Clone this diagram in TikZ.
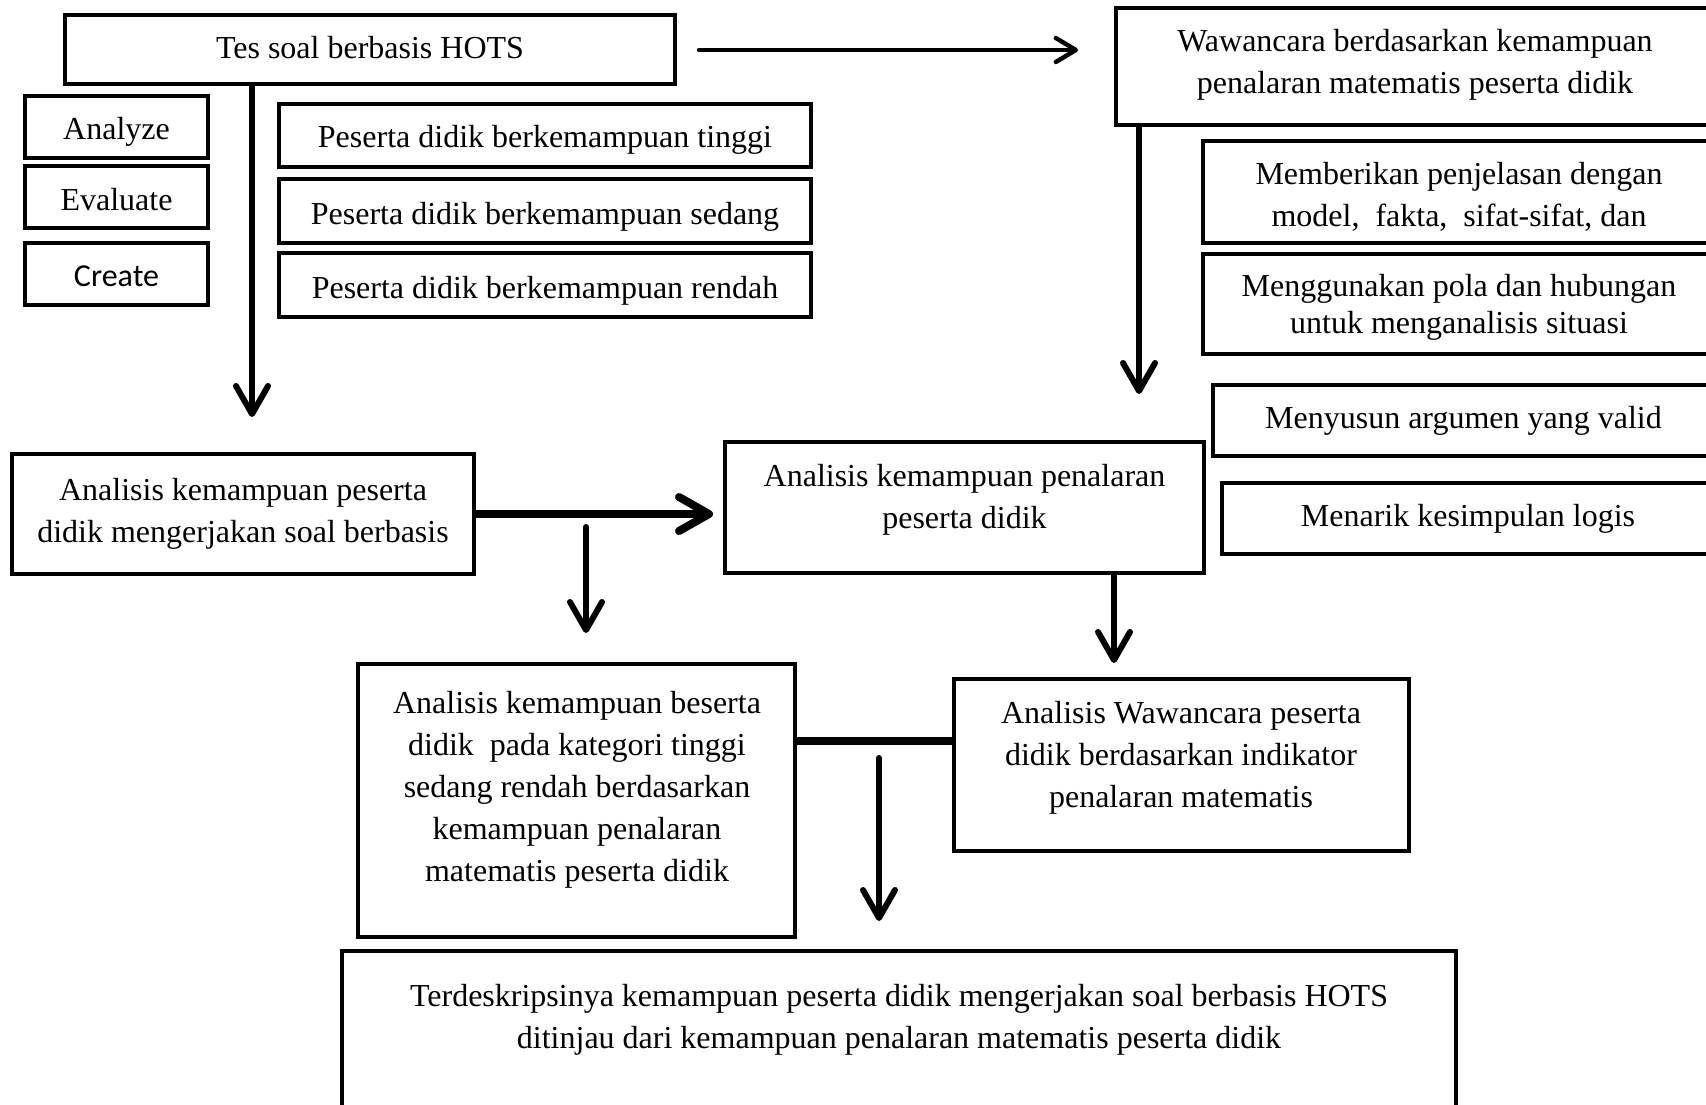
\documentclass[tikz,border=0pt]{standalone}
\usepackage{fontspec}
\setmainfont{Liberation Serif}
\newfontfamily\calibrifont{Carlito}
\usetikzlibrary{arrows.meta,calc}
\begin{document}
\begin{tikzpicture}[x=0.5pt,y=-0.5pt,
  box/.style={draw, line width=2pt, inner sep=0pt},
  txt/.style={font=\fontsize{16}{21}\selectfont, align=center, inner sep=0pt},
  arr/.style={line width=3pt, line cap=round, -{Straight Barb[length=14pt,width=16pt,line cap=round,line join=round]}},
  arrsmall/.style={line width=2.2pt, line cap=round, -{Straight Barb[length=10pt,width=12pt,line cap=round,line join=round]}},
  arrthick/.style={line width=4pt, -{Straight Barb[length=15pt,width=17pt,line cap=round,line join=round]}},
]
\useasboundingbox (0,0) rectangle (1706,1104);

% top-left group
\node[box, minimum width=305pt, minimum height=34.5pt] (a) at (370,49.5) {};
\node[txt] (at) at (370,47.3) {Tes soal berbasis HOTS};
\node[box, minimum width=91.5pt, minimum height=31pt] (b) at (116.5,127) {};
\node[txt] (bt) at (116.5,132) {Analyze};
\node[box, minimum width=91.5pt, minimum height=31pt] (c) at (116.5,197) {};
\node[txt] (ct) at (116.5,199.2) {Evaluate};
\node[box, minimum width=91.5pt, minimum height=31pt] (d) at (116.5,274) {};
\node[txt, font=\calibrifont\fontsize{16}{21}\selectfont] (dt) at (116.5,276.2) {Create};
\node[box, minimum width=266pt, minimum height=31.5pt] (e) at (545,135.5) {};
\node[txt] (et) at (545,140) {Peserta didik berkemampuan tinggi};
\node[box, minimum width=266pt, minimum height=32pt] (f) at (545,211) {};
\node[txt] (ft) at (545,217) {Peserta didik berkemampuan sedang};
\node[box, minimum width=266pt, minimum height=32pt] (g) at (545,285) {};
\node[txt] (gt) at (545,291) {Peserta didik berkemampuan rendah};

% top-right group
\node[box, minimum width=299pt, minimum height=58.5pt] (h) at (1415,66.5) {};
\node[txt] (ht) at (1415,64.3) {Wawancara berdasarkan kemampuan\\penalaran matematis peserta didik};
\node[box, minimum width=255.5pt, minimum height=51pt] (i) at (1458.5,192) {};
\node[txt] (it) at (1459,196.4) {Memberikan penjelasan dengan\\model,~ fakta,~ sifat-sifat, dan};
\node[box, minimum width=255.5pt, minimum height=50pt] (j) at (1458.5,304) {};
\node[txt, font=\fontsize{16}{18.5}\selectfont] (jt) at (1459,307.3) {Menggunakan pola dan hubungan\\untuk menganalisis situasi};
\node[box, minimum width=250.5pt, minimum height=35.5pt] (k) at (1463.5,420.5) {};
\node[txt] (kt) at (1463.5,420.5) {Menyusun argumen yang valid};
\node[box, minimum width=246pt, minimum height=35.5pt] (l) at (1468,518.5) {};
\node[txt] (lt) at (1468,518.5) {Menarik kesimpulan logis};

% middle
\node[box, minimum width=239.5pt, minimum height=65.5pt] (m) at (964.5,507.5) {};
\node[txt] (mt) at (964.5,499.3) {Analisis kemampuan penalaran\\peserta didik};
\node[box, minimum width=231pt, minimum height=60pt] (n) at (243,514) {};
\node[txt] (nt) at (243,513.8) {Analisis kemampuan peserta\\didik mengerjakan soal berbasis};
\node[box, minimum width=218.5pt, minimum height=136.5pt] (o) at (576.5,800.5) {};
\node[txt] (ot) at (577,789.3) {Analisis kemampuan beserta\\didik~ pada kategori tinggi\\sedang rendah berdasarkan\\kemampuan penalaran\\matematis peserta didik};
\node[box, minimum width=227.5pt, minimum height=86pt] (p) at (1181.5,765) {};
\node[txt] (pt) at (1181,757.4) {Analisis Wawancara peserta\\didik berdasarkan indikator\\penalaran matematis};
\node[box, minimum width=557pt, minimum height=84.5pt] (q) at (899,1035.5) {};
\node[txt] (qt) at (899,1019.4) {Terdeskripsinya kemampuan peserta didik mengerjakan soal berbasis HOTS\\ditinjau dari kemampuan penalaran matematis peserta didik};

% connectors
\draw[arrsmall] ($(a.east)+(22,0.5)$) -- ($(h.west |- a.east)+(-36,0.5)$);
\coordinate (v1) at (252,417);
\draw[arr] (a.south -| v1) -- (v1);
\coordinate (v2) at (1139,394);
\draw[arr] (h.south -| v2) -- (v2);
\draw[arrthick] (n.east) -- ($(n.east -| m.west)+(-10,0)$);
\coordinate (b5) at (586,527);
\draw[arr] (b5) -- ($(b5 |- o.north)+(0,-29)$);
\coordinate (v6) at (1114,663);
\draw[arr] (m.south -| v6) -- (v6);
\coordinate (l7) at (0,741);
\draw[line width=4pt] (o.east |- l7) -- (p.west |- l7);
\coordinate (b8) at (879,758);
\draw[arr] (b8) -- ($(b8 |- q.north)+(0,-28)$);
\end{tikzpicture}
\end{document}
